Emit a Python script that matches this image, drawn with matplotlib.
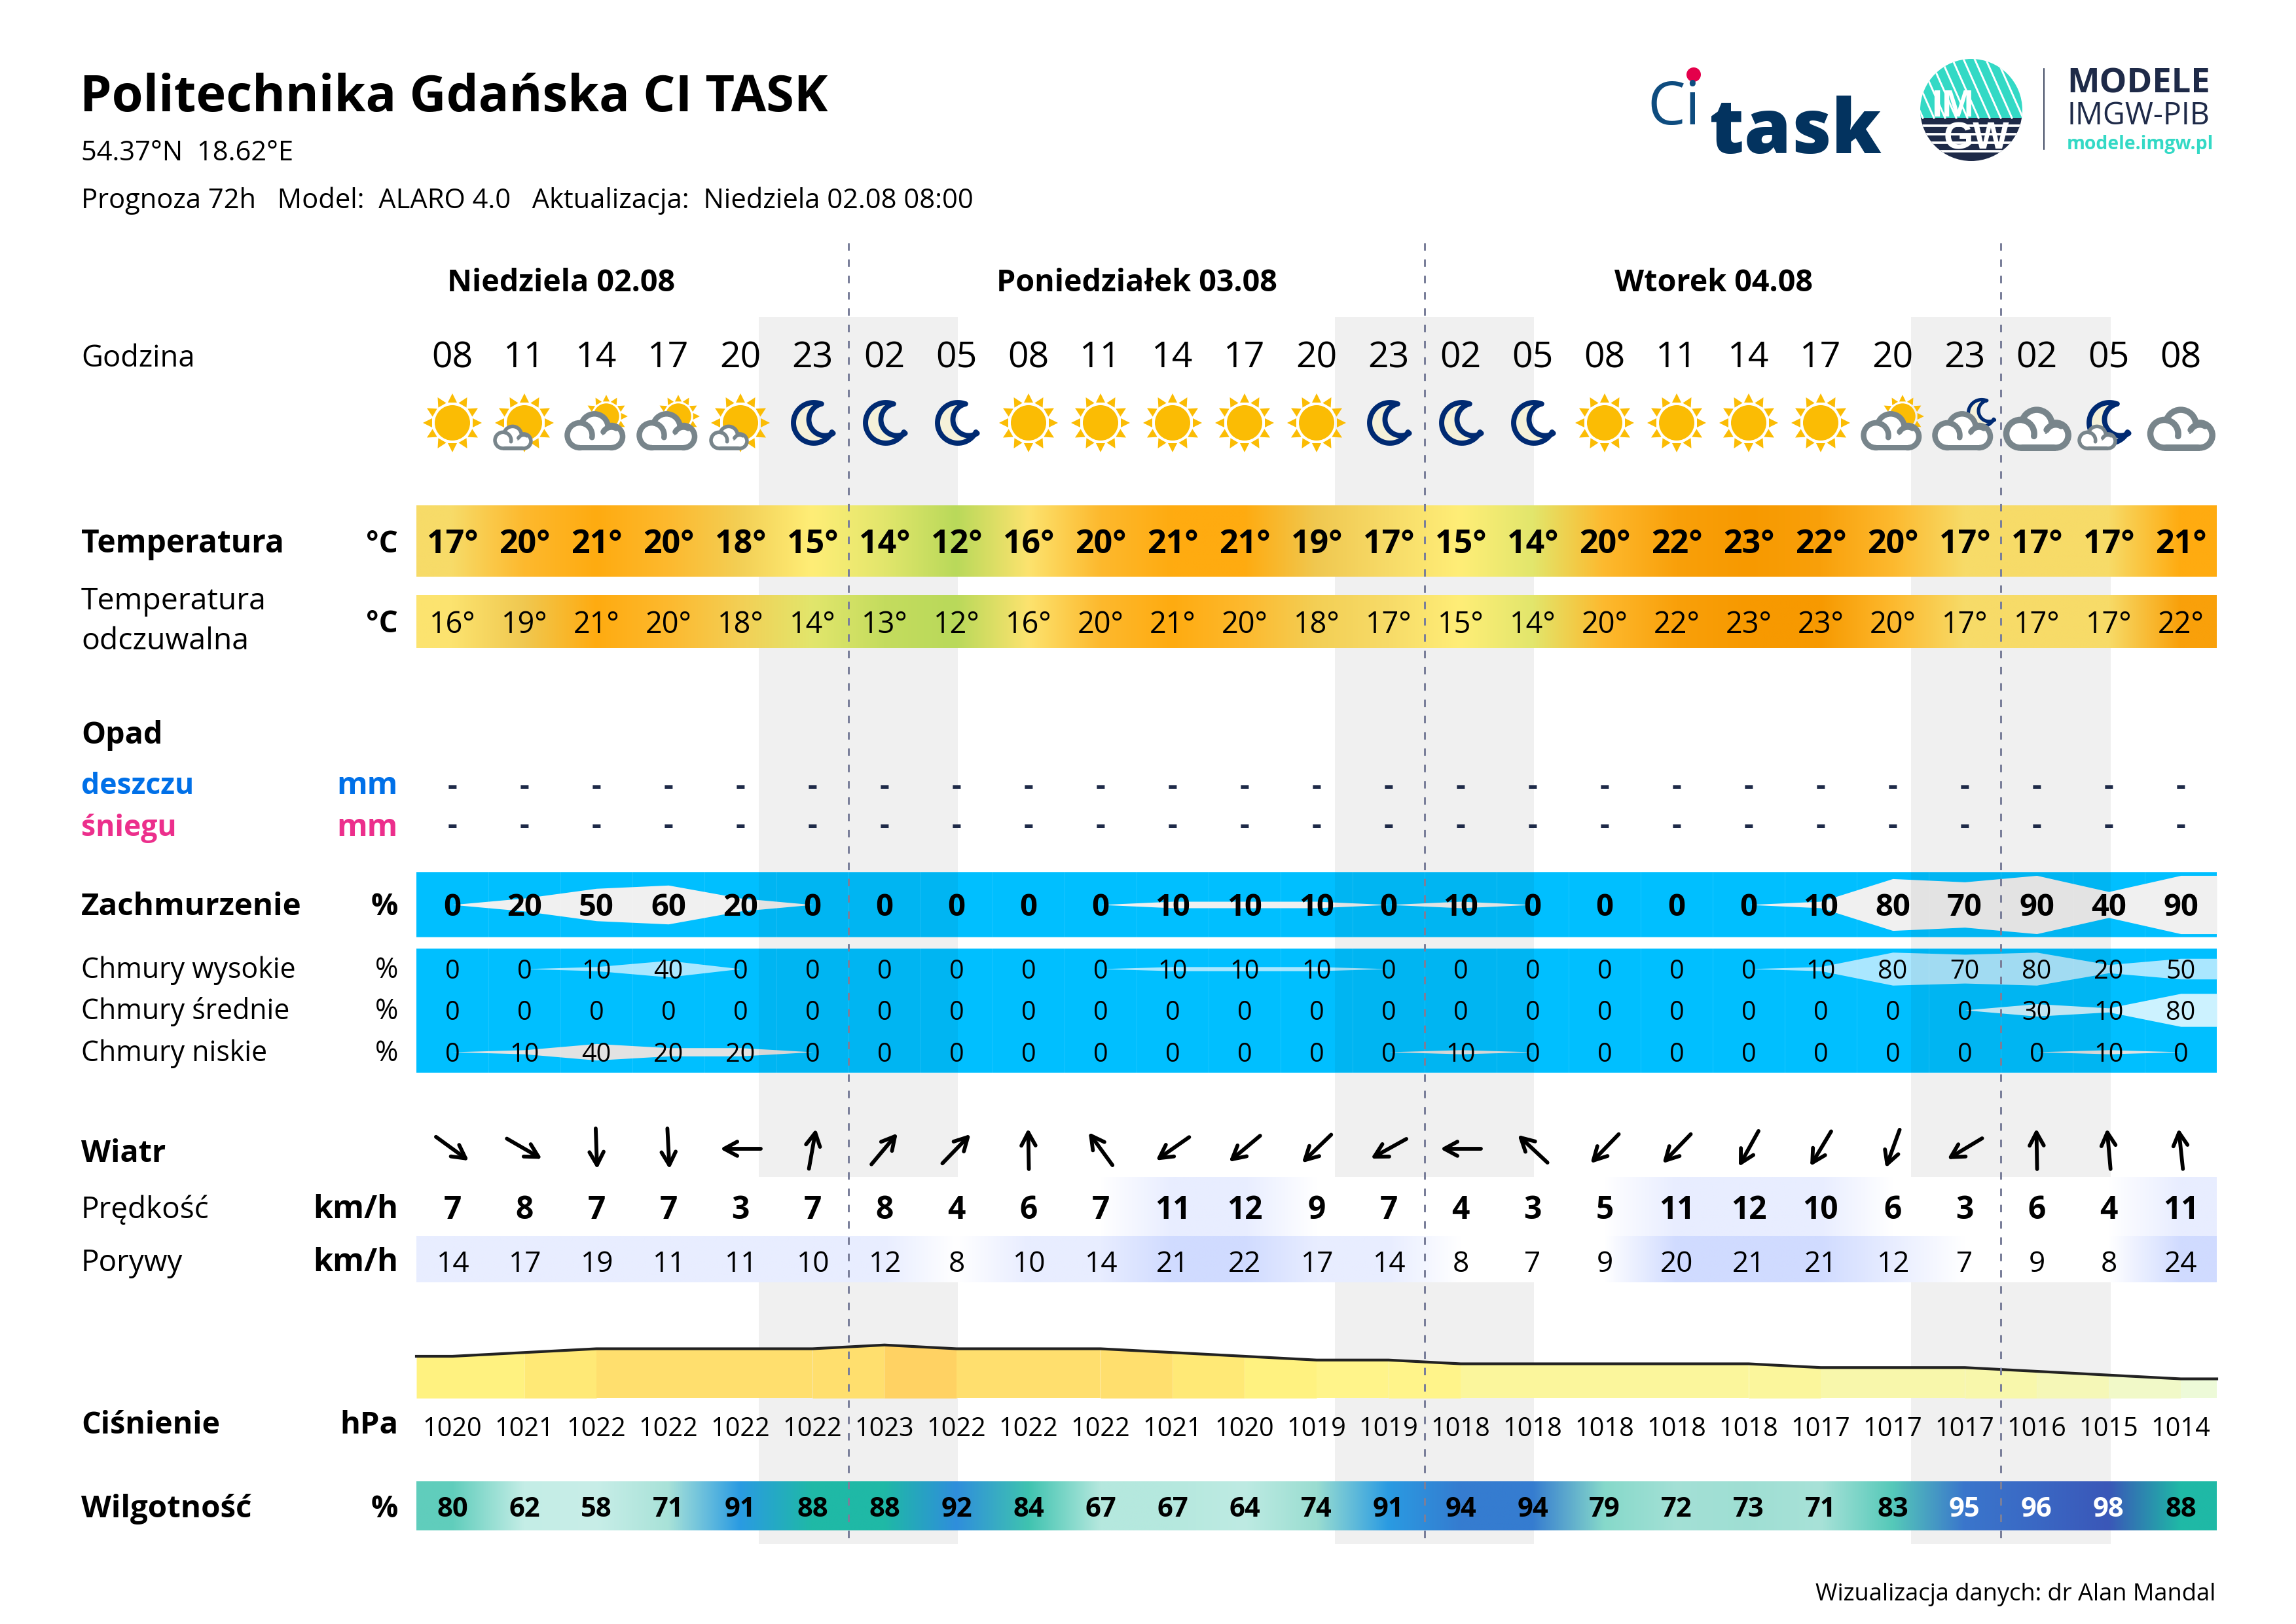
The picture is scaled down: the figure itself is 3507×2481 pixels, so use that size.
import numpy as np
import matplotlib
matplotlib.use("Agg")
import matplotlib.pyplot as plt
from matplotlib.patches import Circle, Polygon, FancyArrowPatch, Rectangle
from matplotlib.colors import to_rgb

plt.rcParams['font.family'] = ['Open Sans', 'DejaVu Sans']

W, H = 3507, 2481

hours = ['08', '11', '14', '17', '20', '23', '02', '05', '08', '11', '14', '17', '20', '23',
         '02', '05', '08', '11', '14', '17', '20', '23', '02', '05', '08']
days = ['Niedziela 02.08', 'Poniedziałek 03.08', 'Wtorek 04.08']
temp = [17, 20, 21, 20, 18, 15, 14, 12, 16, 20, 21, 21, 19, 17, 15, 14, 20, 22, 23, 22, 20, 17, 17, 17, 21]
feels = [16, 19, 21, 20, 18, 14, 13, 12, 16, 20, 21, 20, 18, 17, 15, 14, 20, 22, 23, 23, 20, 17, 17, 17, 22]
rain = ['-'] * 25
snow = ['-'] * 25
clouds = [0, 20, 50, 60, 20, 0, 0, 0, 0, 0, 10, 10, 10, 0, 10, 0, 0, 0, 0, 10, 80, 70, 90, 40, 90]
high = [0, 0, 10, 40, 0, 0, 0, 0, 0, 0, 10, 10, 10, 0, 0, 0, 0, 0, 0, 10, 80, 70, 80, 20, 50]
mid = [0, 0, 0, 0, 0, 0, 0, 0, 0, 0, 0, 0, 0, 0, 0, 0, 0, 0, 0, 0, 0, 0, 30, 10, 80]
low = [0, 10, 40, 20, 20, 0, 0, 0, 0, 0, 0, 0, 0, 0, 10, 0, 0, 0, 0, 0, 0, 0, 0, 10, 0]
wind_dir = [126, 120, 178, 177, 270, 10, 40, 44, 359, 324, 235, 230, 226, 241, 270, 313, 224, 224, 209, 211,
            200, 239, 359, 355, 354]
wind = [7, 8, 7, 7, 3, 7, 8, 4, 6, 7, 11, 12, 9, 7, 4, 3, 5, 11, 12, 10, 6, 3, 6, 4, 11]
gust = [14, 17, 19, 11, 11, 10, 12, 8, 10, 14, 21, 22, 17, 14, 8, 7, 9, 20, 21, 21, 12, 7, 9, 8, 24]
pressure = [1020, 1021, 1022, 1022, 1022, 1022, 1023, 1022, 1022, 1022, 1021, 1020, 1019, 1019, 1018, 1018,
            1018, 1018, 1018, 1017, 1017, 1017, 1016, 1015, 1014]
humidity = [80, 62, 58, 71, 91, 88, 88, 92, 84, 67, 67, 64, 74, 91, 94, 94, 79, 72, 73, 71, 83, 95, 96, 98, 88]
icons = ['sun', 'sun_small_cloud', 'cloud_sun', 'cloud_sun', 'sun_small_cloud', 'moon', 'moon', 'moon',
         'sun', 'sun', 'sun', 'sun', 'sun', 'moon', 'moon', 'moon', 'sun', 'sun', 'sun', 'sun',
         'cloud_sun', 'cloud_moon', 'cloud', 'moon_small_cloud', 'cloud']

night = [(4.25, 7.02), (12.25, 15.02), (20.25, 23.03)]
day_breaks = [5.5, 13.5, 21.5]

temp_colors = {12: '#B9D95A', 13: '#C4DC5E', 14: '#E2E66C', 15: '#FFEE77', 16: '#FCE36F', 17: '#F7DB68',
               18: '#F3CF55', 19: '#F0C850', 20: '#FDB92E', 21: '#FFAB10', 22: '#F9A00A', 23: '#F79900'}
press_colors = {1014: '#EDFAD8', 1015: '#F1F9C8', 1016: '#F5F7B7', 1017: '#F8F7AB', 1018: '#FBF69C',
                1019: '#FFF48A', 1020: '#FFF280', 1021: '#FFE976', 1022: '#FFDF6E', 1023: '#FFD263'}
hum_stops = [(58, '#C8EEE8'), (62, '#C4EDE6'), (67, '#B5E8DE'), (71, '#A8E2D8'), (74, '#9ADDD1'), (79, '#86D9CA'),
             (80, '#60CDBC'), (83, '#55C9B9'), (84, '#3FC3B0'), (88, '#1FB9A6'), (91, '#2A9BE2'), (92, '#2F8EDC'),
             (94, '#357CD0'), (95, '#3A76CC'), (96, '#3A68C4'), (98, '#3A57B8')]

X0, DX = 691.0, 110.0
xs = X0 + DX * np.arange(len(hours))
NAVY = '#1E2A48'
TEAL = '#33D9C5'


def hum_color(v):
    keys = [k for k, _ in hum_stops]
    rgb = np.array([to_rgb(c) for _, c in hum_stops])
    return [np.interp(v, keys, rgb[:, j]) for j in range(3)]


def wind_color(v):
    return '#FFFFFF' if v < 10 else '#E8EDFF'


def gust_color(v):
    if v < 10:
        return '#FFFFFF'
    return '#E8EDFF' if v < 20 else '#D0DBFF'


fig = plt.figure(figsize=(W / 300, H / 300), dpi=300, facecolor='white')


def row_axes(top, bottom, ylim=(0, 1), zorder=1):
    a = fig.add_axes([636 / W, 1 - bottom / H, 2750 / W, (bottom - top) / H], zorder=zorder)
    a.set_xlim(-0.5, 24.5)
    a.set_ylim(*ylim)
    a.axis('off')
    return a


# background axes in pixels
bg = fig.add_axes([0, 0, 1, 1], zorder=0)
bg.set_xlim(0, W)
bg.set_ylim(H, 0)
bg.axis('off')
for a, b in night:
    bg.add_patch(Rectangle((X0 + DX * a, 484), DX * (b - a), 2359 - 484, fc='#F0F0F0', ec='none'))

# top axes: text, icons and day lines
ax = fig.add_axes([0, 0, 1, 1], zorder=5)
ax.set_xlim(0, W)
ax.set_ylim(H, 0)
ax.axis('off')
ax.patch.set_alpha(0)


def txt(x, y, s, size=11, bold=False, color='black', ha='left', **kw):
    return ax.text(x, y, s, fontsize=size, fontweight=kw.pop('weight', 'bold' if bold else 'normal'), color=color,
                   ha=ha, va='baseline', **kw)


def gradient_band(top, bottom, colors):
    a = row_axes(top, bottom)
    img = np.array([[to_rgb(c) for c in colors]])
    a.imshow(img, extent=(-0.5, 24.5, 0, 1), aspect='auto', interpolation='bilinear', zorder=1)
    a.set_xlim(-0.5, 24.5)
    a.set_ylim(0, 1)
    return a


gradient_band(772, 881, [temp_colors[v] for v in temp])
gradient_band(909, 990, [temp_colors[v] for v in feels])
gradient_band(1798, 1888, [wind_color(v) for v in wind])
gradient_band(1888, 1959, [gust_color(v) for v in gust])
gradient_band(2263, 2338, [hum_color(v) for v in humidity])

# cloud bands
x_pad = np.r_[-0.5, np.arange(25), 24.5]


def pad(v):
    return np.r_[v[0], v, v[-1]]


def cloud_band(a, series, color, centre, half):
    y = pad(np.array(series, dtype=float)) * half / 100.0
    a.fill_between(x_pad, centre - y, centre + y, color=color, lw=0, zorder=2)


def band_details(a, y0, y1):
    for s, e in night:
        a.add_patch(Rectangle((s, y0), e - s, y1 - y0, fc='black', alpha=0.05, ec='none', zorder=3))
    for k in range(25):
        a.plot([k + 0.5, k + 0.5], [y0, y1], color='white', lw=0.25, alpha=0.12, zorder=3)
    for yy in (y0, y1):
        a.plot([-0.5, 24.5], [yy, yy], color='white', lw=0.5, alpha=0.25, zorder=3)


c1 = row_axes(1332, 1432, ylim=(-50, 50))
c1.add_patch(Rectangle((-0.5, -50), 25, 100, fc='#00BFFF', ec='none', zorder=1))
cloud_band(c1, clouds, '#F0F0F0', 0, 49.5)
band_details(c1, -50, 50)

c2 = row_axes(1449, 1639, ylim=(1639, 1449))
c2.add_patch(Rectangle((-0.5, 1449), 25, 190, fc='#00BFFF', ec='none', zorder=1))
cloud_band(c2, high, '#AAE7FF', 1480, 31.5)
cloud_band(c2, mid, '#CCF2FF', 1543, 31.5)
cloud_band(c2, low, '#E2E2E2', 1607, 31.5)
band_details(c2, 1449, 1639)

# pressure
p = row_axes(2036, 2136, ylim=(1008.87, 1026.26))
for k, v in enumerate(pressure):
    x0 = -0.5 if k == 0 else k
    x1 = 24.5 if k == 24 else k + 1
    v1 = pressure[min(k + 1, 24)]
    if k == 0:
        xf, yf = [-0.5, 0, 1], [v, v, v1]
    else:
        xf, yf = [x0, x1], [v, v1]
    p.fill_between(xf, 1008.87, yf, color=press_colors[v], lw=0, zorder=1, antialiased=False)
p.plot(x_pad, pad(np.array(pressure, dtype=float)), color='#222222', lw=1.0, zorder=2, clip_on=False)

# day separators
for b in day_breaks:
    ax.plot([X0 + DX * b] * 2, [371, 2359], color='#7A7F9A', lw=0.72, dashes=(3.8, 4.5), zorder=4)


# icons
def sun(cx, cy, s=1.0):
    col = '#FBBC04'
    ax.add_patch(Circle((cx, cy), 27 * s, fc=col, ec='none', zorder=6))
    for ang in np.arange(0, 360, 30):
        t = np.deg2rad(ang + 90)
        u = np.array([np.cos(t), np.sin(t)])
        n = np.array([-u[1], u[0]])
        c = np.array([cx, cy])
        pts = [c + u * 31 * s + n * 7 * s, c + u * 45 * s, c + u * 31 * s - n * 7 * s]
        ax.add_patch(Polygon(pts, fc=col, ec='none', zorder=6))


def moon(cx, cy, s=1.0):
    t_out = np.deg2rad(np.linspace(-69, -333, 50))
    t_in = np.deg2rad(np.linspace(-301, -102, 40))
    outer = np.c_[31 * np.cos(t_out), 31 * np.sin(t_out)]
    inner = np.c_[17 + 24.5 * np.cos(t_in), -5 + 24.5 * np.sin(t_in)]
    pts = np.r_[outer, inner] * s + [cx, cy]
    ax.add_patch(Polygon(pts, closed=True, fc='#F5F1D9', ec='#002A72', lw=1.9 * s, joinstyle='round', zorder=6))


def cloud(cx, base, s=1.0, z=7):
    gray = '#78858B'
    lobes = [(-22.5, -19, 19), (0, -31, 20.7), (26, -17, 17)]
    half = 4.25

    def blob(delta, col):
        for lx, ly, r in lobes:
            ax.add_patch(Circle((cx + lx * s, base + ly * s), (r + delta) * s, fc=col, ec='none', zorder=z))
        ax.add_patch(Rectangle((cx - 22.5 * s, base - 19 * s), 48.5 * s, (19 + delta) * s, fc=col, ec='none',
                               zorder=z))

    blob(half, gray)
    blob(-half, 'white')
    lw = 2.04 * s
    t = np.deg2rad(np.linspace(-75, 10, 20))
    ax.plot(cx + (-22.5 + 19 * np.cos(t)) * s, base + (-19 + 19 * np.sin(t)) * s, color=gray, lw=lw, zorder=z,
            solid_capstyle='round')
    t = np.deg2rad(np.linspace(-150, -60, 20))
    ax.plot(cx + (26 + 14.5 * np.cos(t)) * s, base + (-17 + 14.5 * np.sin(t)) * s, color=gray, lw=lw, zorder=z,
            solid_capstyle='round')


CY = 646
BASE = 684
for x, kind in zip(xs, icons):
    if kind == 'sun':
        sun(x, CY)
    elif kind == 'moon':
        moon(x + 2, CY)
    elif kind == 'sun_small_cloud':
        sun(x, CY)
        cloud(x - 18, BASE + 1, 0.65)
    elif kind == 'cloud_sun':
        sun(x + 15, CY - 10, 0.73)
        cloud(x - 3, BASE, 1.0)
    elif kind == 'cloud_moon':
        moon(x + 26, CY - 15, 0.66)
        cloud(x - 4, BASE, 1.0)
    elif kind == 'cloud':
        cloud(x, BASE, 1.12)
    elif kind == 'moon_small_cloud':
        moon(x + 1, CY)
        cloud(x - 18, BASE + 1, 0.65)

# winds
for x, d in zip(xs, wind_dir):
    t = np.deg2rad(d)
    u = np.array([np.sin(t), -np.cos(t)])
    c = np.array([x, 1755.0])
    ax.add_patch(FancyArrowPatch(c - u * 31, c + u * 31, arrowstyle='->,head_length=4.8,head_width=2.6',
                                 mutation_scale=1, lw=1.4, color='black', shrinkA=0, shrinkB=0, zorder=6,
                                 capstyle='round'))

# header
txt(122, 170, 'Politechnika Gdańska CI TASK', 18.6, True)
txt(124, 245, '54.37°N  18.62°E', 10)
txt(124, 318, 'Prognoza 72h   Model:  ALARO 4.0   Aktualizacja:  Niedziela 02.08 08:00', 10)
for cx, d in zip([857, 1736, 2617], days):
    txt(cx, 445, d, 11.2, True, ha='center')
txt(3384, 2445, 'Wizualizacja danych: dr Alan Mandal', 8.7, ha='right')

# logos
txt(2516, 190, 'Ci', 22, color='#0E4C7F', weight=500)
ax.add_patch(Circle((2587, 114), 11, fc='#E4004B', ec='none'))
txt(2611, 234, 'task', 27.7, color='#03335F', weight=800)

clip = Circle((3011, 168), 78, transform=ax.transData)
top_half = Rectangle((2933, 90), 156, 90, fc=TEAL, ec='none')
bot_half = Rectangle((2933, 180), 156, 66, fc=NAVY, ec='none')
for part in (top_half, bot_half):
    ax.add_patch(part)
    part.set_clip_path(clip)
for off in np.arange(-110, 110, 17):
    ln, = ax.plot([2990 + off, 3030 + off], [90, 180], color='white', lw=0.7)
    ln.set_clip_path(clip)
for yy in (192, 205, 218, 231):
    ln, = ax.plot([2933, 3089], [yy, yy], color='white', lw=0.9)
    ln.set_clip_path(clip)
txt(2982, 178, 'IM', 14, True, color='white', ha='center', family='Liberation Sans')
txt(3019, 227, 'GW', 14, True, color='white', ha='center', family='Liberation Sans')
ax.plot([3122, 3122], [105, 228], color=NAVY, lw=0.4)
txt(3157, 141, 'MODELE', 12.6, True, color=NAVY)
txt(3157, 190, 'IMGW-PIB', 11.2, color=NAVY)
txt(3157, 228, 'modele.imgw.pl', 6.8, True, color=TEAL)

# row labels
UX = 608
txt(124, 560, 'Godzina', 10.9)
txt(124, 844, 'Temperatura', 11.5, True)
txt(UX, 844, '°C', 11, True, ha='right')
txt(124, 931, 'Temperatura', 11.1)
txt(124, 992, 'odczuwalna', 11.1)
txt(UX, 966, '°C', 11, True, ha='right')
txt(124, 1136, 'Opad', 11.2, True)
txt(124, 1213, 'deszczu', 10.7, True, color='#0070E8')
txt(UX, 1213, 'mm', 11.4, True, color='#0070E8', ha='right')
txt(124, 1277, 'śniegu', 10.7, True, color='#EC2F8C')
txt(UX, 1277, 'mm', 11.4, True, color='#EC2F8C', ha='right')
txt(124, 1398, 'Zachmurzenie', 11.4, True)
txt(UX, 1398, '%', 11, True, ha='right')
for yy, name in zip([1494, 1557, 1621], ['Chmury wysokie', 'Chmury średnie', 'Chmury niskie']):
    txt(124, yy, name, 10.3)
    txt(UX, yy, '%', 10.3, ha='right')
txt(124, 1775, 'Wiatr', 11.2, True)
txt(124, 1861, 'Prędkość', 11)
txt(UX, 1861, 'km/h', 11.7, True, ha='right')
txt(124, 1942, 'Porywy', 11)
txt(UX, 1942, 'km/h', 11.7, True, ha='right')
txt(124, 2190, 'Ciśnienie', 11.2, True)
txt(UX, 2190, 'hPa', 11.3, True, ha='right')
txt(124, 2318, 'Wilgotność', 11.4, True)
txt(UX, 2318, '%', 11, True, ha='right')

# values
for k, x in enumerate(xs):
    txt(x, 561, hours[k], 13.3, ha='center')
    txt(x, 845, f'{temp[k]}°', 12, True, ha='center')
    txt(x, 967, f'{feels[k]}°', 10.8, ha='center')
    txt(x, 1215, rain[k], 11, True, color=NAVY, ha='center')
    txt(x, 1275, snow[k], 11, True, color=NAVY, ha='center')
    txt(x, 1399, str(clouds[k]), 11.3, True, ha='center')
    txt(x, 1495, str(high[k]), 9.5, ha='center')
    txt(x, 1558, str(mid[k]), 9.5, ha='center')
    txt(x, 1622, str(low[k]), 9.5, ha='center')
    txt(x, 1862, str(wind[k]), 11.5, True, ha='center')
    txt(x, 1943, str(gust[k]), 10.6, ha='center')
    txt(x, 2194, str(pressure[k]), 9.5, ha='center')
    txt(x, 2317, str(humidity[k]), 10, True, color='white' if humidity[k] >= 95 else 'black', ha='center')

fig.savefig('out.png', dpi=300)
